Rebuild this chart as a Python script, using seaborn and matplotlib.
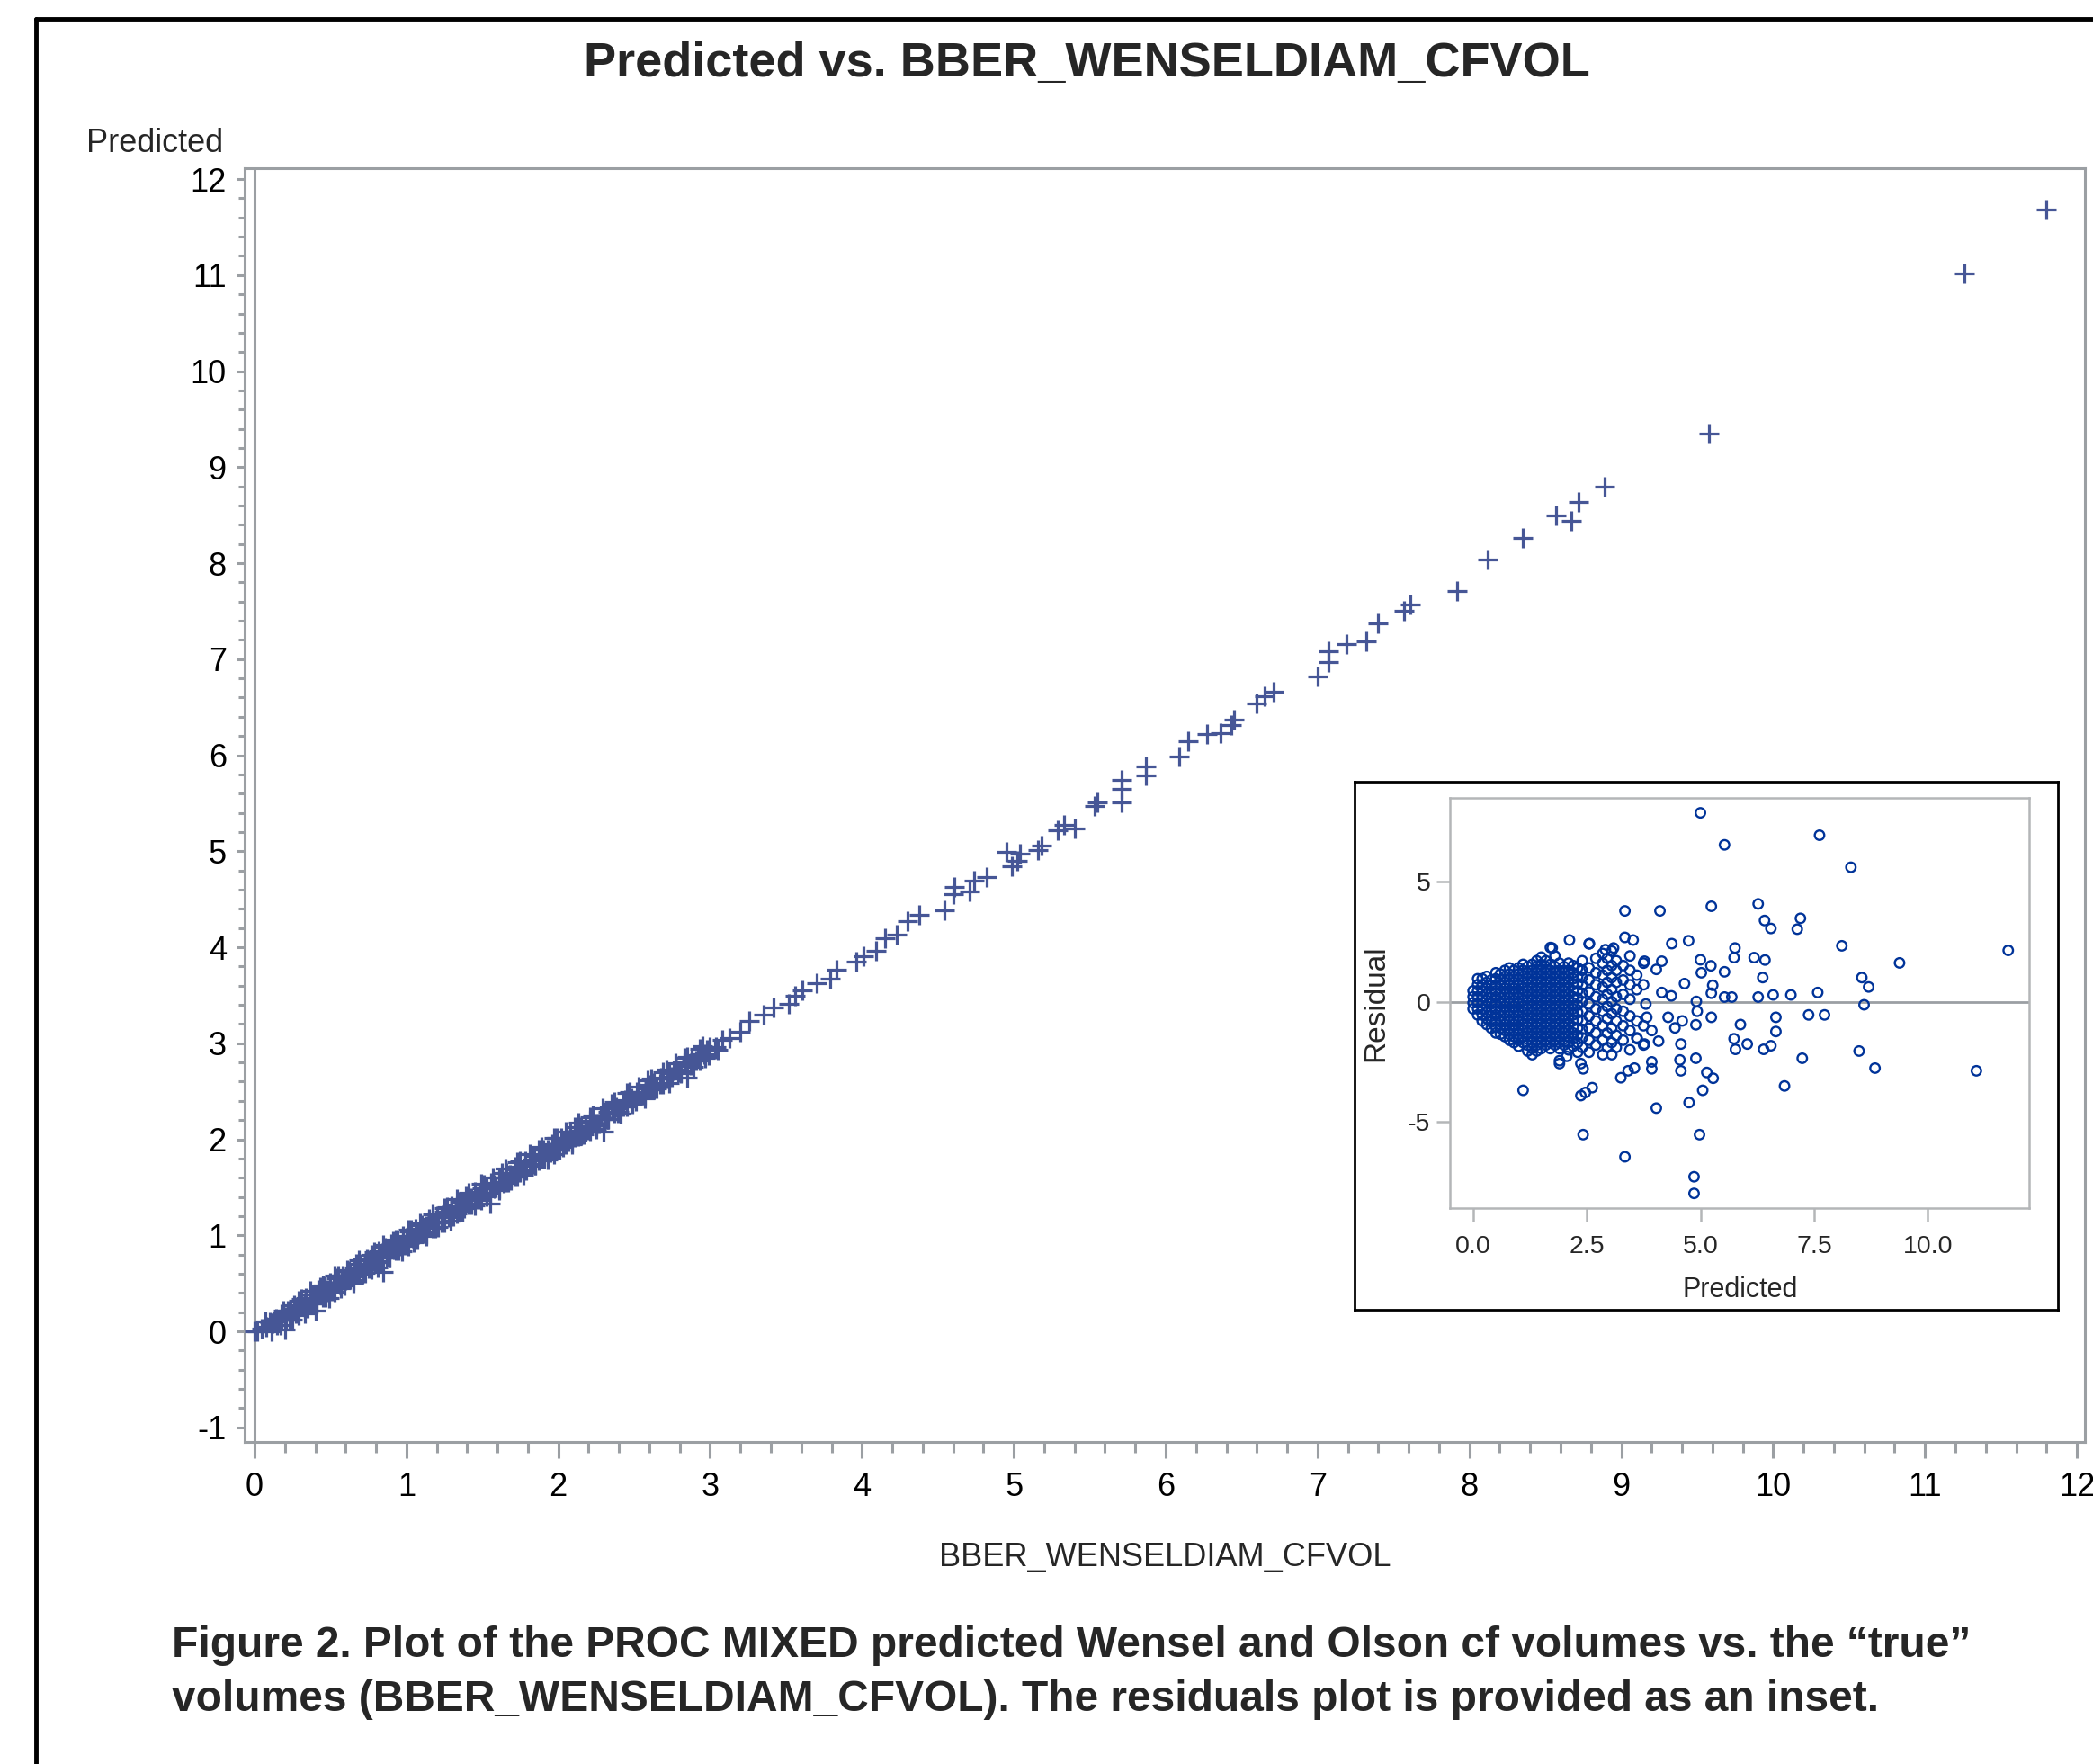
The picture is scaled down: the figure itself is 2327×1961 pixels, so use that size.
import numpy as np
import pandas as pd
import matplotlib
matplotlib.use("Agg")
import matplotlib.pyplot as plt
from matplotlib.ticker import MultipleLocator, FixedLocator
from matplotlib.lines import Line2D
import seaborn as sns

# Main plot: "true" volume (x) vs PROC MIXED predicted volume (y)
# dense band below ~3, read as several rows along the diagonal
true_band = [
    0.00, 0.02, 0.05, 0.08, 0.10, 0.12, 0.14, 0.16, 0.18, 0.20,
    0.22, 0.24, 0.26, 0.28, 0.30, 0.32, 0.34, 0.36, 0.38, 0.40,
    0.42, 0.44, 0.46, 0.48, 0.50, 0.52, 0.54, 0.56, 0.58, 0.60,
    0.62, 0.64, 0.66, 0.68, 0.70, 0.72, 0.74, 0.76, 0.78, 0.80,
    0.82, 0.84, 0.86, 0.88, 0.90, 0.92, 0.94, 0.96, 0.98, 1.00,
    1.02, 1.04, 1.06, 1.08, 1.10, 1.12, 1.15, 1.18, 1.20, 1.23,
    1.25, 1.28, 1.30, 1.33, 1.35, 1.38, 1.40, 1.43, 1.45, 1.48,
    1.50, 1.53, 1.56, 1.58, 1.61, 1.64, 1.66, 1.69, 1.72, 1.75,
    1.78, 1.81, 1.84, 1.87, 1.90, 1.93, 1.96, 1.99, 2.02, 2.05,
    2.08, 2.11, 2.15, 2.18, 2.21, 2.25, 2.28, 2.32, 2.36, 2.40,
    2.44, 2.48, 2.52, 2.56, 2.60, 2.64, 2.68, 2.72, 2.76, 2.80,
    2.84, 2.88, 2.92, 2.96, 3.00, 3.04, 3.08,
    0.11, 0.17, 0.23, 0.29, 0.35, 0.41, 0.47, 0.53, 0.59, 0.65,
    0.71, 0.77, 0.83, 0.89, 0.95, 1.01, 1.07, 1.13, 1.19, 1.25,
    1.31, 1.37, 1.43, 1.49, 1.55, 1.61, 1.67, 1.73, 1.79, 1.85,
    1.91, 1.97, 2.03, 2.09, 2.15, 2.21, 2.27, 2.33, 2.39, 2.45,
    2.51, 2.57, 2.63, 2.69, 2.75, 2.81, 2.87, 2.93, 2.99, 3.05,
    0.07, 0.19, 0.31, 0.43, 0.55, 0.67, 0.79, 0.91, 1.03, 1.15,
    1.27, 1.39, 1.51, 1.63, 1.75, 1.87, 1.99, 2.11, 2.23, 2.35,
    2.47, 2.59, 2.71, 2.83, 2.95,
    0.20, 0.40, 0.85, 1.55, 2.30, 2.85,
    0.13, 0.18, 0.23, 0.28, 0.33, 0.38, 0.43, 0.48, 0.53, 0.58,
    0.63, 0.68, 0.73, 0.78, 0.83, 0.88, 0.93, 0.98, 1.03, 1.08,
    1.13, 1.18, 1.23, 1.28, 1.33, 1.38, 1.43, 1.48, 1.53, 1.58,
    1.63, 1.68, 1.73, 1.78, 1.83, 1.88, 1.93, 1.98, 2.03, 2.08,
    2.13, 2.18, 2.23, 2.28, 2.33, 2.38, 2.43, 2.48, 2.53, 2.58,
    2.63, 2.68, 2.73, 2.78, 2.83, 2.88, 2.93, 2.98,
    0.15, 0.21, 0.27, 0.33, 0.39, 0.45, 0.51, 0.57, 0.63, 0.69,
    0.75, 0.81, 0.87, 0.93, 0.99, 1.05, 1.11, 1.17, 1.23, 1.29,
    1.35, 1.41, 1.47, 1.53, 1.59, 1.65, 1.71, 1.77, 1.83, 1.89,
    1.95, 2.01, 2.07, 2.13, 2.19, 2.25, 2.31, 2.37, 2.43, 2.49,
    2.55, 2.61, 2.67, 2.73, 2.79, 2.85, 2.91, 2.97, 3.03,
    0.25, 0.33, 0.41, 0.49, 0.57, 0.65, 0.73, 0.81, 0.89, 0.97,
    1.05, 1.13, 1.21, 1.29, 1.37, 1.45, 1.53, 1.61, 1.69, 1.77,
    1.85, 1.93, 2.01, 2.09, 2.17, 2.25, 2.33, 2.41, 2.49, 2.57,
    2.65, 2.73, 2.81, 2.89, 2.97,
    0.29, 0.37, 0.45, 0.53, 0.61, 0.69, 0.77, 0.85, 0.93, 1.01,
    1.09, 1.17, 1.25, 1.33, 1.41, 1.49, 1.57, 1.65, 1.73, 1.81,
    1.89, 1.97, 2.05, 2.13, 2.21, 2.29, 2.37, 2.45, 2.53, 2.61,
    2.69, 2.77, 2.85, 2.93,
]
pred_band = [
    0.00, 0.00, 0.03, 0.05, 0.09, 0.08, 0.13, 0.12, 0.18, 0.15,
    0.22, 0.20, 0.27, 0.24, 0.31, 0.26, 0.35, 0.31, 0.38, 0.33,
    0.43, 0.38, 0.47, 0.41, 0.51, 0.45, 0.55, 0.49, 0.58, 0.53,
    0.63, 0.57, 0.67, 0.61, 0.70, 0.65, 0.75, 0.69, 0.79, 0.73,
    0.83, 0.77, 0.87, 0.81, 0.91, 0.85, 0.95, 0.89, 0.99, 0.93,
    1.04, 0.97, 1.07, 1.01, 1.11, 1.04, 1.15, 1.09, 1.20, 1.14,
    1.25, 1.19, 1.30, 1.23, 1.35, 1.28, 1.40, 1.33, 1.45, 1.38,
    1.49, 1.43, 1.55, 1.49, 1.60, 1.55, 1.65, 1.60, 1.71, 1.66,
    1.77, 1.72, 1.83, 1.78, 1.89, 1.83, 1.95, 1.89, 2.01, 1.95,
    2.07, 2.02, 2.13, 2.08, 2.19, 2.15, 2.25, 2.21, 2.33, 2.29,
    2.41, 2.38, 2.49, 2.46, 2.57, 2.55, 2.64, 2.63, 2.72, 2.71,
    2.80, 2.80, 2.88, 2.89, 2.96, 2.96, 3.04,
    0.00, 0.07, 0.12, 0.17, 0.24, 0.29, 0.36, 0.41, 0.48, 0.53,
    0.60, 0.65, 0.72, 0.77, 0.84, 0.89, 0.96, 1.01, 1.08, 1.13,
    1.20, 1.25, 1.32, 1.37, 1.44, 1.49, 1.56, 1.61, 1.68, 1.73,
    1.80, 1.85, 1.92, 1.97, 2.04, 2.09, 2.16, 2.21, 2.28, 2.34,
    2.40, 2.46, 2.52, 2.58, 2.65, 2.70, 2.77, 2.82, 2.88, 2.93,
    0.10, 0.22, 0.34, 0.46, 0.58, 0.70, 0.82, 0.94, 1.06, 1.17,
    1.29, 1.41, 1.53, 1.65, 1.77, 1.89, 2.01, 2.13, 2.25, 2.37,
    2.49, 2.61, 2.73, 2.85, 2.97,
    0.02, 0.22, 0.62, 1.33, 2.08, 2.64,
    0.10, 0.13, 0.20, 0.23, 0.30, 0.33, 0.40, 0.43, 0.50, 0.53,
    0.60, 0.63, 0.70, 0.73, 0.79, 0.83, 0.90, 0.93, 0.99, 1.03,
    1.10, 1.13, 1.19, 1.23, 1.30, 1.33, 1.39, 1.43, 1.49, 1.53,
    1.60, 1.63, 1.69, 1.73, 1.79, 1.83, 1.89, 1.93, 1.99, 2.03,
    2.09, 2.13, 2.19, 2.23, 2.29, 2.33, 2.39, 2.43, 2.49, 2.53,
    2.59, 2.63, 2.69, 2.73, 2.79, 2.83, 2.89, 2.93,
    0.07, 0.12, 0.19, 0.24, 0.31, 0.36, 0.42, 0.48, 0.54, 0.60,
    0.66, 0.72, 0.78, 0.84, 0.90, 0.96, 1.02, 1.08, 1.13, 1.20,
    1.26, 1.32, 1.38, 1.44, 1.50, 1.56, 1.61, 1.68, 1.74, 1.80,
    1.86, 1.92, 1.98, 2.03, 2.10, 2.16, 2.22, 2.28, 2.34, 2.39,
    2.46, 2.52, 2.58, 2.63, 2.70, 2.76, 2.82, 2.87, 2.94,
    0.12, 0.19, 0.29, 0.35, 0.45, 0.51, 0.61, 0.67, 0.77, 0.83,
    0.93, 0.99, 1.09, 1.15, 1.25, 1.31, 1.41, 1.47, 1.57, 1.63,
    1.73, 1.79, 1.89, 1.95, 2.05, 2.11, 2.21, 2.27, 2.37, 2.43,
    2.53, 2.59, 2.69, 2.75, 2.85,
    0.32, 0.42, 0.48, 0.58, 0.64, 0.74, 0.80, 0.90, 0.96, 1.06,
    1.12, 1.22, 1.28, 1.38, 1.44, 1.54, 1.60, 1.70, 1.76, 1.85,
    1.92, 2.01, 2.08, 2.17, 2.23, 2.32, 2.39, 2.48, 2.55, 2.63,
    2.70, 2.79, 2.86, 2.94,
]
# sparse points above ~3
true_upper = [
    3.13, 3.20, 3.26, 3.35, 3.42, 3.52, 3.56, 3.61, 3.70, 3.79,
    3.83, 3.96, 4.01, 4.09, 4.15, 4.23, 4.30, 4.38, 4.54, 4.60,
    4.61, 4.71, 4.74, 4.82, 4.95, 4.99, 5.02, 5.04, 5.16, 5.18,
    5.29, 5.33, 5.40, 5.53, 5.55, 5.71, 5.71, 5.71, 5.87, 5.87,
    6.09, 6.15, 6.27, 6.36, 6.43, 6.45, 6.60, 6.65, 6.71, 7.00,
    7.07, 7.07, 7.19, 7.32, 7.40, 7.57, 7.61, 7.92, 8.12, 8.35,
    8.57, 8.67, 8.72, 8.89, 9.58, 11.26, 11.80,
]
pred_upper = [
    3.05, 3.12, 3.23, 3.30, 3.37, 3.41, 3.49, 3.55, 3.63, 3.67,
    3.77, 3.85, 3.91, 3.96, 4.09, 4.13, 4.27, 4.34, 4.38, 4.55,
    4.63, 4.58, 4.69, 4.73, 4.99, 4.84, 4.90, 4.97, 5.01, 5.06,
    5.22, 5.27, 5.24, 5.47, 5.51, 5.51, 5.65, 5.74, 5.79, 5.88,
    5.99, 6.15, 6.22, 6.23, 6.31, 6.37, 6.54, 6.61, 6.66, 6.82,
    6.97, 7.08, 7.16, 7.19, 7.37, 7.50, 7.57, 7.71, 8.04, 8.26,
    8.50, 8.44, 8.64, 8.80, 9.35, 11.02, 11.68,
]

# Inset: residual vs predicted, dense core given as columns of residuals
core_pred = [0.00, 0.10, 0.20, 0.30, 0.40, 0.50, 0.60, 0.70, 0.80, 0.90,
             1.00, 1.10, 1.20, 1.30, 1.40, 1.50, 1.60, 1.70, 1.80, 1.90,
             2.00, 2.10, 2.20, 2.30, 2.40, 2.55, 2.70, 2.85, 2.95, 3.05,
             3.15, 3.30, 3.45, 3.60, 3.75]
core_res = [
    [-0.30, -0.05, 0.20, 0.45],
    [-0.55, -0.30, -0.05, 0.20, 0.45, 0.70, 0.95],
    [-0.80, -0.55, -0.30, -0.05, 0.20, 0.45, 0.70, 0.95],
    [-0.95, -0.70, -0.45, -0.20, 0.05, 0.30, 0.55, 0.80, 1.05],
    [-1.10, -0.85, -0.60, -0.35, -0.10, 0.15, 0.40, 0.65, 0.90],
    [-1.30, -1.05, -0.80, -0.55, -0.30, -0.05, 0.20, 0.45, 0.70, 0.95, 1.20],
    [-1.35, -1.10, -0.85, -0.60, -0.35, -0.10, 0.15, 0.40, 0.65, 0.90, 1.15],
    [-1.45, -1.20, -0.95, -0.70, -0.45, -0.20, 0.05, 0.30, 0.55, 0.80, 1.05, 1.30],
    [-1.60, -1.35, -1.10, -0.85, -0.60, -0.35, -0.10, 0.15, 0.40, 0.65, 0.90,
     1.15, 1.40],
    [-1.70, -1.45, -1.20, -0.95, -0.70, -0.45, -0.20, 0.05, 0.30, 0.55, 0.80,
     1.05, 1.30],
    [-1.85, -1.60, -1.35, -1.10, -0.85, -0.60, -0.35, -0.10, 0.15, 0.40, 0.65,
     0.90, 1.15, 1.40],
    [-1.70, -1.45, -1.20, -0.95, -0.70, -0.45, -0.20, 0.05, 0.30, 0.55, 0.80,
     1.05, 1.30, 1.55],
    [-2.05, -1.80, -1.55, -1.30, -1.05, -0.80, -0.55, -0.30, -0.05, 0.20, 0.45,
     0.70, 0.95, 1.20, 1.45],
    [-2.20, -1.95, -1.70, -1.45, -1.20, -0.95, -0.70, -0.45, -0.20, 0.05, 0.30,
     0.55, 0.80, 1.05, 1.30, 1.55],
    [-2.05, -1.80, -1.55, -1.30, -1.05, -0.80, -0.55, -0.30, -0.05, 0.20, 0.45,
     0.70, 0.95, 1.20, 1.45, 1.70],
    [-1.95, -1.70, -1.45, -1.20, -0.95, -0.70, -0.45, -0.20, 0.05, 0.30, 0.55,
     0.80, 1.05, 1.30, 1.55, 1.85],
    [-1.80, -1.55, -1.30, -1.05, -0.80, -0.55, -0.30, -0.05, 0.20, 0.45, 0.70,
     0.95, 1.20, 1.45, 1.70],
    [-1.95, -1.70, -1.45, -1.20, -0.95, -0.70, -0.45, -0.20, 0.05, 0.30, 0.55,
     0.80, 1.05, 1.30, 1.55, 2.25],
    [-1.80, -1.55, -1.30, -1.05, -0.80, -0.55, -0.30, -0.05, 0.20, 0.45, 0.70,
     0.95, 1.20, 1.45, 1.90],
    [-2.45, -1.95, -1.70, -1.45, -1.20, -0.95, -0.70, -0.45, -0.20, 0.05, 0.30,
     0.55, 0.80, 1.05, 1.30, 1.60],
    [-1.80, -1.55, -1.30, -1.05, -0.80, -0.55, -0.30, -0.05, 0.20, 0.45, 0.70,
     0.95, 1.20, 1.45],
    [-2.00, -1.70, -1.45, -1.20, -0.95, -0.70, -0.45, -0.20, 0.05, 0.30, 0.55,
     0.80, 1.05, 1.30, 1.60],
    [-1.85, -1.55, -1.30, -1.05, -0.80, -0.55, -0.30, -0.05, 0.20, 0.45, 0.70,
     0.95, 1.20, 1.50],
    [-2.10, -1.70, -1.40, -1.10, -0.75, -0.45, -0.15, 0.15, 0.45, 0.75, 1.05, 1.40],
    [-1.90, -1.50, -1.15, -0.80, -0.40, 0.00, 0.35, 0.70, 1.00, 1.30, 1.70],
    [-2.10, -1.60, -1.10, -0.60, -0.10, 0.40, 0.90, 1.40, 2.40],
    [-1.80, -1.30, -0.80, -0.30, 0.20, 0.70, 1.20, 1.80],
    [-2.20, -1.60, -1.00, -0.40, 0.10, 0.60, 1.10, 1.60, 2.00],
    [-1.90, -1.30, -0.70, -0.20, 0.30, 0.80, 1.30, 1.80],
    [-2.20, -1.70, -1.10, -0.50, 0.00, 0.50, 1.00, 1.50, 2.10],
    [-1.90, -1.40, -0.80, -0.30, 0.20, 0.80, 1.30, 1.70],
    [-1.60, -1.00, -0.40, 0.30, 0.90, 1.50],
    [-2.00, -1.20, -0.60, 0.10, 0.70, 1.30, 1.90],
    [-1.50, -0.80, 0.50, 1.10],
    [-1.80, -1.00, 0.70, 1.60],
]
# Inset: scattered points outside the core
pred_out = [5.00, 7.62, 5.53, 8.31, 3.34, 4.11, 5.24, 6.27, 6.41, 6.55,
            7.20, 7.13, 8.11, 11.77, 9.38, 8.55, 8.70, 8.60, 7.58, 6.99,
            6.60, 6.27, 5.69, 5.53, 6.37, 6.42, 6.18, 5.76, 5.74, 5.53,
            5.27, 5.24, 5.23, 5.00, 5.02, 4.65, 4.74, 4.37, 4.36, 4.15,
            4.15, 4.03, 3.77, 3.52, 3.34, 2.56, 2.12, 1.74, 3.09, 2.91,
            4.91, 4.93, 5.24, 4.90, 4.60, 4.44, 4.29, 3.80, 3.82, 3.93,
            4.08, 3.77, 3.61, 4.57, 4.55, 4.57, 4.90, 5.14, 5.28, 5.05,
            4.75, 4.03, 4.98, 2.42, 3.34, 4.86, 4.86, 3.25, 3.41, 3.55,
            3.93, 3.93, 2.62, 2.47, 2.37, 1.10, 2.42, 2.37, 1.90, 2.06,
            5.74, 5.77, 5.88, 6.03, 6.39, 6.55, 6.66, 6.66, 6.85, 7.24,
            7.38, 7.73, 8.49, 8.84, 11.07]
res_out = [7.84, 6.91, 6.51, 5.58, 3.77, 3.77, 3.96, 4.06, 3.37, 3.04,
           3.46, 3.01, 2.32, 2.13, 1.61, 1.00, 0.61, -0.13, 0.38, 0.28,
           0.28, 0.19, 0.19, 0.19, 1.00, 1.73, 1.83, 2.23, 1.83, 1.24,
           0.68, 0.35, 1.49, 1.74, 1.20, 0.75, 2.53, 2.41, 0.24, 0.38,
           1.68, 1.34, 1.68, 2.56, 2.67, 2.41, 2.56, 2.23, 2.23, 2.16,
           0.01, -0.40, -0.65, -0.96, -0.80, -1.09, -0.65, -0.10, -0.65, -1.20,
           -1.64, -1.76, -1.54, -1.76, -2.42, -2.87, -2.35, -2.94, -3.18, -3.68,
           -4.19, -4.42, -5.52, -5.52, -6.44, -7.27, -7.96, -3.16, -2.87, -2.76,
           -2.79, -2.50, -3.57, -3.77, -3.90, -3.68, -2.79, -2.57, -2.57, -2.27,
           -1.54, -1.98, -0.95, -1.76, -1.98, -1.83, -1.24, -0.65, -3.50, -2.35,
           -0.55, -0.55, -2.05, -2.76, -2.87]

inset_xticks = [0.0, 2.5, 5.0, 7.5, 10.0]
inset_yticks = [-5, 0, 5]

main_df = pd.DataFrame({"true": true_band + true_upper,
                        "pred": pred_band + pred_upper})
core_rows = [(p, r) for p, col in zip(core_pred, core_res) for r in col]
res_df = pd.concat([
    pd.DataFrame(core_rows, columns=["pred", "res"]),
    pd.DataFrame({"pred": pred_out, "res": res_out}),
], ignore_index=True)

PLUS = "#465696"
CIRC = "#003399"
GRAY = "#9b9fa3"

sns.set_style("white")
plt.rcParams["font.family"] = ["Liberation Sans", "DejaVu Sans"]
plt.rcParams["axes.unicode_minus"] = False

W, H = 2327, 1961
fig = plt.figure(figsize=(W / 100, H / 100), dpi=100)


def fx(px):
    return px / W


def fy(py):
    return 1 - py / H


# outer black frame (only left and top visible)
fig.add_artist(Line2D([fx(40), fx(40)], [fy(21), 0], color="black", lw=3.5,
                      transform=fig.transFigure))
fig.add_artist(Line2D([fx(40), 1], [fy(21), fy(21)], color="black", lw=3.5,
                      transform=fig.transFigure))

# main scatter
ax = fig.add_axes([fx(272), fy(1603), fx(2318) - fx(272), fy(187) - fy(1603)])
ax.axvline(0, color=GRAY, lw=2.2, zorder=0.5)
sns.scatterplot(data=main_df, x="true", y="pred", marker="+", s=16.5 ** 2,
                linewidth=2.3, color=PLUS, ax=ax, legend=False, zorder=3)
ax.set_xlim(-0.065, 12.053)
ax.set_ylim(-1.152, 12.113)
ax.xaxis.set_major_locator(MultipleLocator(1))
ax.xaxis.set_minor_locator(MultipleLocator(0.2))
ax.yaxis.set_major_locator(MultipleLocator(1))
ax.yaxis.set_minor_locator(MultipleLocator(0.2))
ax.set_xlabel("")
ax.set_ylabel("")
for sp in ax.spines.values():
    sp.set_color(GRAY)
    sp.set_linewidth(2.2)
ax.tick_params(axis="both", which="both", direction="out", color=GRAY,
               width=2.2, labelsize=26, labelcolor="black")
ax.tick_params(axis="both", which="both", bottom=True, left=True)
ax.tick_params(axis="y", which="major", length=6.5, pad=8)
ax.tick_params(axis="y", which="minor", length=5)
ax.tick_params(axis="x", which="major", length=13, pad=11)
ax.tick_params(axis="x", which="minor", length=8.6)

fig.text(fx(1208), fy(71), "Predicted vs. BBER_WENSELDIAM_CFVOL",
         ha="center", va="center", fontsize=39, fontweight="bold")
fig.text(fx(172), fy(159), "Predicted", ha="center", va="center", fontsize=26)
fig.text(fx(1295), fy(1731), "BBER_WENSELDIAM_CFVOL", ha="center",
         va="center", fontsize=26)

# inset box
box = fig.add_axes([fx(1506), fy(1456), fx(2288) - fx(1506), fy(869) - fy(1456)])
box.set_xticks([])
box.set_yticks([])
box.set_facecolor("white")
for sp in box.spines.values():
    sp.set_color("black")
    sp.set_linewidth(2.0)
box.set_zorder(2)

ax2 = fig.add_axes([fx(1612), fy(1343), fx(2256) - fx(1612), fy(887) - fy(1343)])
ax2.set_zorder(3)
ax2.axhline(0, color=GRAY, lw=2.0, zorder=1)
sns.scatterplot(data=res_df, x="pred", y="res", marker="o", s=7.6 ** 2,
                facecolor="none", edgecolor=CIRC, linewidth=1.7, ax=ax2,
                legend=False, zorder=3)
ax2.set_xlim(-0.51, 12.23)
ax2.set_ylim(-8.57, 8.46)
ax2.xaxis.set_major_locator(FixedLocator(inset_xticks))
ax2.yaxis.set_major_locator(FixedLocator(inset_yticks))
ax2.set_xticklabels([f"{v:.1f}" for v in inset_xticks])
ax2.set_yticklabels([str(v) for v in inset_yticks])
ax2.set_xlabel("")
ax2.set_ylabel("")
for sp in ax2.spines.values():
    sp.set_color("#b4b6b8")
    sp.set_linewidth(1.8)
ax2.tick_params(axis="both", direction="out", color="#b4b6b8", width=1.8,
                length=10.5, labelsize=20.5, bottom=True, left=True)
ax2.tick_params(axis="x", pad=11)
ax2.tick_params(axis="y", pad=5)

fig.text(fx(1530), fy(1115), "Residual", rotation=90, ha="center",
         va="center", fontsize=24, zorder=5)
fig.text(fx(1935), fy(1434), "Predicted", ha="center", va="center",
         fontsize=22, zorder=5)

# caption
fig.text(fx(191), fy(1829),
         "Figure 2. Plot of the PROC MIXED predicted Wensel and Olson cf volumes vs. the \u201ctrue\u201d",
         ha="left", va="center", fontsize=34.5, fontweight="bold")
fig.text(fx(191), fy(1889),
         "volumes (BBER_WENSELDIAM_CFVOL). The residuals plot is provided as an inset.",
         ha="left", va="center", fontsize=34.5, fontweight="bold")

fig.savefig("out.png", dpi=100)
plt.close(fig)
